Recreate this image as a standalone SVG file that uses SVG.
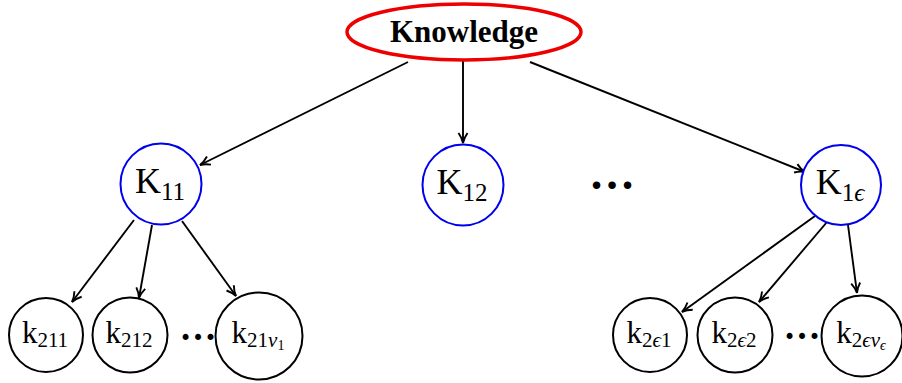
<svg xmlns="http://www.w3.org/2000/svg" width="902" height="383" viewBox="0 0 902 383">
<style>
.top{fill:#fff;stroke:#ee0000;stroke-width:3.5}
.mid{fill:#fff;stroke:#0000ee;stroke-width:2}
.leaf{fill:#fff;stroke:#000;stroke-width:2}
.e{stroke:#000;stroke-width:1.9;fill:none;marker-end:url(#arr)}
text{font-family:"Liberation Serif","DejaVu Serif",serif;fill:#000}
.kb{font-size:31px;font-weight:bold}
.K{font-size:36px}
.k{font-size:31px}
.s{font-size:25px}
.s2{font-size:21px}
.s3{font-size:14px}
.dots{font-weight:bold}
</style>
<defs>
<marker id="arr" viewBox="0 0 12 12" refX="11" refY="6" markerWidth="12" markerHeight="12" markerUnits="userSpaceOnUse" orient="auto">
<path d="M1,1.5 Q6,5 11,6 Q6,7 1,10.5" fill="none" stroke="#000" stroke-width="1.9"/>
</marker>
</defs>
<g id="connectors">
<line class="e" x1="408" y1="62" x2="200" y2="165"/>
<line class="e" x1="463" y1="59" x2="463" y2="143"/>
<line class="e" x1="530" y1="62" x2="805" y2="172"/>
<line class="e" x1="134" y1="220" x2="72" y2="302"/>
<line class="e" x1="152" y1="225" x2="139" y2="298"/>
<line class="e" x1="182" y1="221" x2="236" y2="296"/>
<line class="e" x1="815" y1="216" x2="682" y2="312"/>
<line class="e" x1="827" y1="222" x2="759" y2="302"/>
<line class="e" x1="848" y1="225" x2="857" y2="293"/>
</g>
<g id="knowledge">
<ellipse class="top" cx="464" cy="32" rx="117" ry="28"/>
<text class="kb" x="464" y="42" text-anchor="middle">Knowledge</text>
</g>
<g id="K11">
<circle class="mid" cx="161" cy="184" r="40.5"/>
<text class="K" x="160" y="193" text-anchor="middle">K<tspan class="s" dy="7">11</tspan></text>
</g>
<g id="K12">
<circle class="mid" cx="463" cy="185" r="40.5"/>
<text class="K" x="462" y="194" text-anchor="middle">K<tspan class="s" dy="7">12</tspan></text>
</g>
<g id="dots1">
<text class="dots" x="612" y="189" font-size="46" text-anchor="middle">…</text>
</g>
<g id="K1e">
<circle class="mid" cx="841" cy="185" r="40"/>
<text class="K" x="840" y="194" text-anchor="middle">K<tspan class="s" dy="7">1<tspan font-style="italic">ϵ</tspan></tspan></text>
</g>
<g id="k211">
<circle class="leaf" cx="46" cy="335" r="37"/>
<text class="k" x="45" y="343" text-anchor="middle">k<tspan class="s2" dy="4">211</tspan></text>
</g>
<g id="k212">
<circle class="leaf" cx="130" cy="335" r="37.5"/>
<text class="k" x="129" y="343" text-anchor="middle">k<tspan class="s2" dy="4">212</tspan></text>
</g>
<g id="dots2">
<text class="dots" x="198" y="340" font-size="37" text-anchor="middle">…</text>
</g>
<g id="k21v1">
<circle class="leaf" cx="259" cy="336" r="43.5"/>
<text class="k" x="258" y="343" text-anchor="middle">k<tspan class="s2" dy="4">21<tspan font-style="italic">ν</tspan><tspan class="s3" dy="3">1</tspan></tspan></text>
</g>
<g id="k2e1">
<circle class="leaf" cx="650" cy="335" r="37"/>
<text class="k" x="649" y="343" text-anchor="middle">k<tspan class="s2" dy="4">2<tspan font-style="italic">ϵ</tspan>1</tspan></text>
</g>
<g id="k2e2">
<circle class="leaf" cx="735" cy="335" r="37.5"/>
<text class="k" x="734" y="343" text-anchor="middle">k<tspan class="s2" dy="4">2<tspan font-style="italic">ϵ</tspan>2</tspan></text>
</g>
<g id="dots3">
<text class="dots" x="802" y="339" font-size="37" text-anchor="middle">…</text>
</g>
<g id="k2eve">
<circle class="leaf" cx="862" cy="336" r="40.5"/>
<text class="k" x="861" y="343" text-anchor="middle">k<tspan class="s2" dy="4">2<tspan font-style="italic">ϵν</tspan><tspan class="s3" dy="3" font-style="italic">ϵ</tspan></tspan></text>
</g>
</svg>
